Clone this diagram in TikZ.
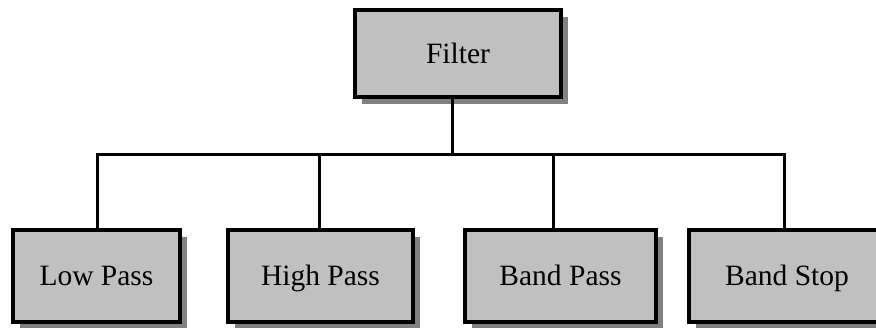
\documentclass[tikz,border=0pt]{standalone}
\usepackage{fontspec}
\setmainfont{Liberation Serif}
\usetikzlibrary{shadows}
\definecolor{boxfill}{HTML}{C0C0C0}
\definecolor{shadowgray}{HTML}{808080}
\begin{document}
\begin{tikzpicture}[x=1pt,y=1pt,
  blk/.style={draw=black, line width=3.6pt, fill=boxfill, rectangle, inner sep=0pt,
    font=\fontsize{29.5}{35}\selectfont, text height=19.5pt, text depth=0pt,
    drop shadow={shadow xshift=7pt, shadow yshift=-7pt, fill=shadowgray, opacity=1}},
  wire/.style={draw=black, line width=3pt}]
\useasboundingbox (0,0) rectangle (876,-327);
\node[blk, minimum width=206pt, minimum height=87pt] (filter) at (458,-53.5) {Filter};
\node[blk, minimum width=167pt, minimum height=92pt] (lp) at (96.5,-276) {Low Pass};
\node[blk, minimum width=185pt, minimum height=92pt] (hp) at (320.5,-276) {High Pass};
\node[blk, minimum width=191pt, minimum height=92pt] (bp) at (560.5,-276) {Band Pass};
\node[blk, minimum width=196pt, minimum height=92pt] (bs) at (787,-276) {Band Stop};
\coordinate (bus) at (452,-154);
\draw[wire] ([xshift=-6pt]filter.south) -- (bus);
\draw[wire] ([xshift=0.5pt]lp.north) |- (bus) -| ([xshift=-3pt]bs.north);
\draw[wire] ([xshift=-1.5pt]hp.north) -- ([xshift=-1.5pt]hp.north |- bus);
\draw[wire] ([xshift=-7.5pt]bp.north) -- ([xshift=-7.5pt]bp.north |- bus);
\end{tikzpicture}
\end{document}
